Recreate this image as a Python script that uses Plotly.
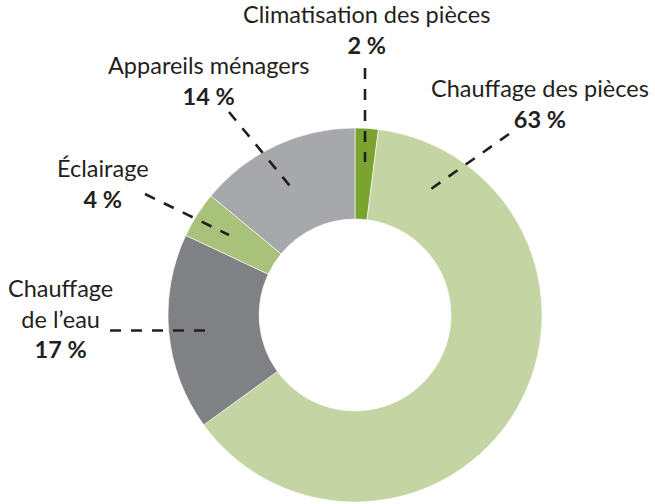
import plotly.graph_objects as go

# ---- data ----
categories = ["Climatisation des pièces", "Chauffage des pièces", "Chauffage de l'eau",
              "Éclairage", "Appareils ménagers"]
values = [2, 63, 17, 4, 14]
colors = ["#7ba331", "#c4d4a2", "#808184", "#a8c27b", "#a7a8ab"]
label_lines = [["Climatisation des pièces"], ["Chauffage des pièces"],
               ["Chauffage", "de l\u2019eau"], ["Éclairage"], ["Appareils ménagers"]]

W, H = 655, 504
CX, CY, R = 355, 315, 187
HOLE = 0.513

# label layout: (x, xanchor, y middle of text block) and leader lines
label_pos = [(367, "center", 29.75), (651, "right", 103.25), (60, "center", 318),
             (103, "center", 183.75), (208, "center", 80.5)]
leaders = [((365, 68), (365, 162)), ((509, 134), (431, 189)), ((110, 330.5), (205, 330.5)),
           ((145, 194), (229, 235)), ((229, 112), (290, 186))]

TXT = "#231f20"
FONT = "Lato"
FS = 23.5

def px(x):
    return x / W

def py(y):
    return 1 - y / H

fig = go.Figure(go.Pie(
    labels=categories, values=values, hole=HOLE, sort=False, direction="clockwise",
    rotation=0, marker=dict(colors=colors, line=dict(color="white", width=0.6)),
    textinfo="none", hoverinfo="label+percent", showlegend=False,
    domain=dict(x=[px(CX - R), px(CX + R)], y=[py(CY + R), py(CY - R)]),
))

annotations = []
for lines, v, (x, xa, y) in zip(label_lines, values, label_pos):
    text = "<br>".join(lines + [f"<b>{v} %</b>"])
    annotations.append(dict(
        x=px(x), y=py(y), xref="paper", yref="paper",
        text=text, showarrow=False, xanchor=xa, yanchor="middle", align="center",
        font=dict(family=FONT, size=FS, color=TXT)))

shapes = []
for (x0, y0), (x1, y1) in leaders:
    shapes.append(dict(type="line", xref="paper", yref="paper",
                       x0=px(x0), y0=py(y0), x1=px(x1), y1=py(y1),
                       line=dict(color=TXT, width=2.6, dash="11px,10px")))

fig.update_layout(
    width=W, height=H, margin=dict(l=0, r=0, t=0, b=0),
    paper_bgcolor="white", plot_bgcolor="white",
    annotations=annotations, shapes=shapes,
)

fig.write_html("out.html", config={"displayModeBar": False},
               post_script="document.body.style.margin='0';document.body.style.overflow='hidden';")
